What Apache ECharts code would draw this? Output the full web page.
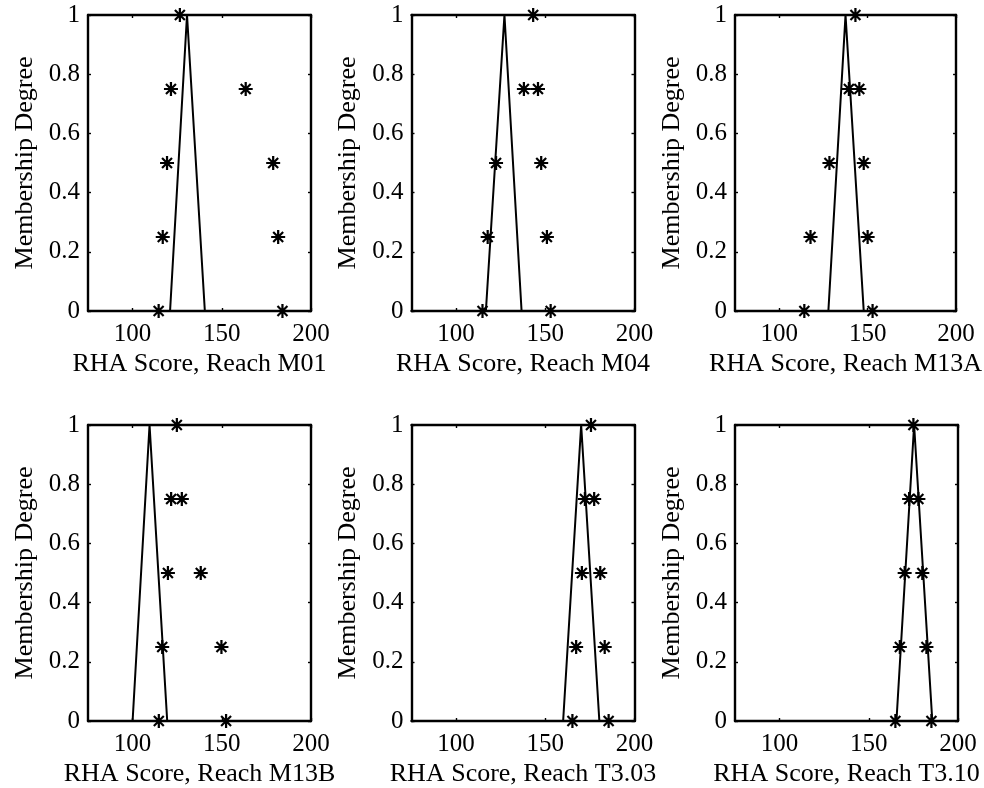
<!DOCTYPE html>
<html>
<head>
<meta charset="utf-8">
<script src="https://cdn.jsdelivr.net/npm/echarts@6/dist/echarts.min.js"></script>
<style>
html,body{margin:0;padding:0;background:#fff;}
#chart{width:984px;height:788px;}
</style>
</head>
<body>
<div id="chart"></div>
<script>
// ---- data ----
const reachNames = ['M01', 'M04', 'M13A', 'M13B', 'T3.03', 'T3.10'];
const levels = [0, 0.25, 0.5, 0.75, 1];
const triX_M01 = [121, 130.5, 140.5];
const triX_M04 = [116.7, 127.1, 136.7];
const triX_M13A = [127.8, 137.5, 147.8];
const triX_M13B = [100, 109.5, 119.4];
const triX_T303 = [160, 170.1, 180.3];
const triX_T310 = [165.5, 175.4, 185.6];
const triY = [0, 1, 0];
const starLeft_M01 = [114.6, 116.9, 119.3, 121.5, 126.5];
const starRight_M01 = [184, 181.6, 178.8, 163.4, 126.5];
const starLeft_M04 = [114.8, 117.7, 122.4, 138, 143.2];
const starRight_M04 = [153, 150.9, 147.7, 145.9, 143.2];
const starLeft_M13A = [114.2, 117.7, 128.4, 139.4, 143.1];
const starRight_M13A = [152.8, 150, 147.8, 145.3, 143.1];
const starLeft_M13B = [114.7, 116.6, 119.8, 121.6, 124.8];
const starRight_M13B = [152.4, 149.8, 138.2, 127.6, 124.8];
const starLeft_T303 = [165.2, 167.3, 170.5, 172.2, 175.6];
const starRight_T303 = [185.5, 183.3, 180.8, 177.4, 175.6];
const starLeft_T310 = [164.9, 167.4, 170.1, 172.6, 175];
const starRight_T310 = [185.1, 182.3, 180, 177.8, 175];
const xTicks = [100, 150, 200];
const xMin = 75, xMax = 200;

const triList = [triX_M01, triX_M04, triX_M13A, triX_M13B, triX_T303, triX_T310];
const leftList = [starLeft_M01, starLeft_M04, starLeft_M13A, starLeft_M13B, starLeft_T303, starLeft_T310];
const rightList = [starRight_M01, starRight_M04, starRight_M13A, starRight_M13B, starRight_T303, starRight_T310];

// ---- layout ----
const lefts = [88, 411.5, 735];
const tops = [15, 425];
const W = 223, H = 296;
const FONT = 'Liberation Serif';
const star = 'path://M0 42 L100 42 L100 58 L0 58 Z M42 0 L58 0 L58 100 L42 100 Z M20 9 L91 80 L80 91 L9 20 Z M80 9 L91 20 L20 91 L9 80 Z';

const grid = [], xAxis = [], yAxis = [], series = [];
const axLine = {show: true, onZero: false, lineStyle: {color: '#000', width: 2.4}};
const tick = {show: true, inside: true, length: 3, lineStyle: {color: '#000', width: 1.4}};

for (let i = 0; i < 6; i++) {
  const r = Math.floor(i / 3), c = i % 3;
  grid.push({left: lefts[c], top: tops[r], width: W, height: H});
  xAxis.push({
    type: 'value', gridIndex: i, min: xMin, max: xMax, position: 'bottom',
    axisLine: axLine,
    axisTick: Object.assign({}, tick, {customValues: xTicks}),
    axisLabel: {customValues: xTicks, color: '#000', fontFamily: FONT, fontSize: 25, margin: 11},
    splitLine: {show: false},
    name: 'RHA Score, Reach ' + reachNames[i], nameLocation: 'middle', nameGap: 40,
    nameTextStyle: {color: '#000', fontFamily: FONT, fontSize: 26}
  });
  xAxis.push({
    type: 'value', gridIndex: i, min: xMin, max: xMax, position: 'top',
    axisLine: axLine,
    axisTick: Object.assign({}, tick, {customValues: xTicks}),
    axisLabel: {show: false}, splitLine: {show: false}
  });
  yAxis.push({
    type: 'value', gridIndex: i, min: 0, max: 1, interval: 0.2, position: 'left',
    axisLine: axLine, axisTick: tick,
    axisLabel: {color: '#000', fontFamily: FONT, fontSize: 25, margin: 8},
    splitLine: {show: false},
    name: 'Membership Degree', nameLocation: 'middle', nameGap: 50,
    nameTextStyle: {color: '#000', fontFamily: FONT, fontSize: 26}
  });
  yAxis.push({
    type: 'value', gridIndex: i, min: 0, max: 1, interval: 0.2, position: 'right',
    axisLine: axLine, axisTick: tick,
    axisLabel: {show: false}, splitLine: {show: false}
  });
  const tri = triList[i].map((x, k) => [x, triY[k]]);
  series.push({
    type: 'line', xAxisIndex: 2 * i, yAxisIndex: 2 * i, data: tri,
    symbol: 'none', lineStyle: {color: '#000', width: 2}, silent: true, animation: false
  });
  const pts = [];
  levels.forEach((lv, k) => {
    pts.push([leftList[i][k], lv]);
    if (rightList[i][k] !== leftList[i][k]) pts.push([rightList[i][k], lv]);
  });
  series.push({
    type: 'scatter', xAxisIndex: 2 * i, yAxisIndex: 2 * i, data: pts,
    symbol: star, symbolSize: 14, itemStyle: {color: '#000', opacity: 1}, silent: true, animation: false,
    clip: false, z: 5
  });
}

const chart = echarts.init(document.getElementById('chart'));
chart.setOption({animation: false, backgroundColor: '#fff', grid, xAxis, yAxis, series});
</script>
</body>
</html>
